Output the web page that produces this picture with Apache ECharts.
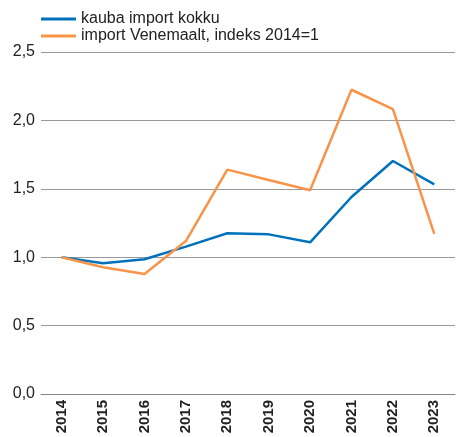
<!DOCTYPE html>
<html>
<head>
<meta charset="utf-8">
<script src="https://cdn.jsdelivr.net/npm/echarts@6/dist/echarts.min.js"></script>
<style>
  html, body { margin: 0; padding: 0; background: #fff; }
  #chart { width: 459px; height: 437px; }
</style>
</head>
<body>
<div id="chart"></div>
<script>
const years = ['2014', '2015', '2016', '2017', '2018', '2019', '2020', '2021', '2022', '2023'];
const importTotal = [1.0, 0.955, 0.985, 1.077, 1.175, 1.167, 1.109, 1.44, 1.703, 1.533];
const importRussia = [1.0, 0.926, 0.877, 1.118, 1.64, 1.564, 1.489, 2.224, 2.083, 1.17];
const seriesNames = ['kauba import kokku', 'import Venemaalt, indeks 2014=1'];

const chart = echarts.init(document.getElementById('chart'));
chart.setOption({
  animation: false,
  textStyle: { fontFamily: 'Liberation Sans, Arial, sans-serif' },
  color: ['#0072BC', '#F7944A'],
  legend: {
    orient: 'vertical',
    left: 36,
    top: 6,
    itemWidth: 35,
    itemHeight: 3,
    itemGap: 1,
    icon: 'rect',
    textStyle: { fontSize: 16, color: '#222' },
    data: seriesNames
  },
  grid: { left: 41, right: 4, top: 52, bottom: 43 },
  xAxis: {
    type: 'category',
    data: years,
    boundaryGap: true,
    axisLine: { lineStyle: { color: '#888', width: 1 } },
    axisTick: { length: 5, lineStyle: { color: '#888' } },
    axisLabel: {
      rotate: 90,
      fontWeight: 'bold',
      fontSize: 15,
      color: '#222',
      margin: 6,
      interval: 0
    }
  },
  yAxis: {
    type: 'value',
    min: 0,
    max: 2.5,
    interval: 0.5,
    axisLine: { show: false },
    axisTick: { show: false },
    splitLine: { lineStyle: { color: '#999', width: 1 } },
    axisLabel: {
      fontSize: 16,
      color: '#222',
      margin: 6,
      formatter: v => v.toFixed(1).replace('.', ',')
    }
  },
  series: [
    {
      name: seriesNames[0],
      type: 'line',
      data: importTotal,
      symbol: 'none',
      lineStyle: { width: 2.5 }
    },
    {
      name: seriesNames[1],
      type: 'line',
      data: importRussia,
      symbol: 'none',
      lineStyle: { width: 2.5 }
    }
  ]
});
</script>
</body>
</html>
